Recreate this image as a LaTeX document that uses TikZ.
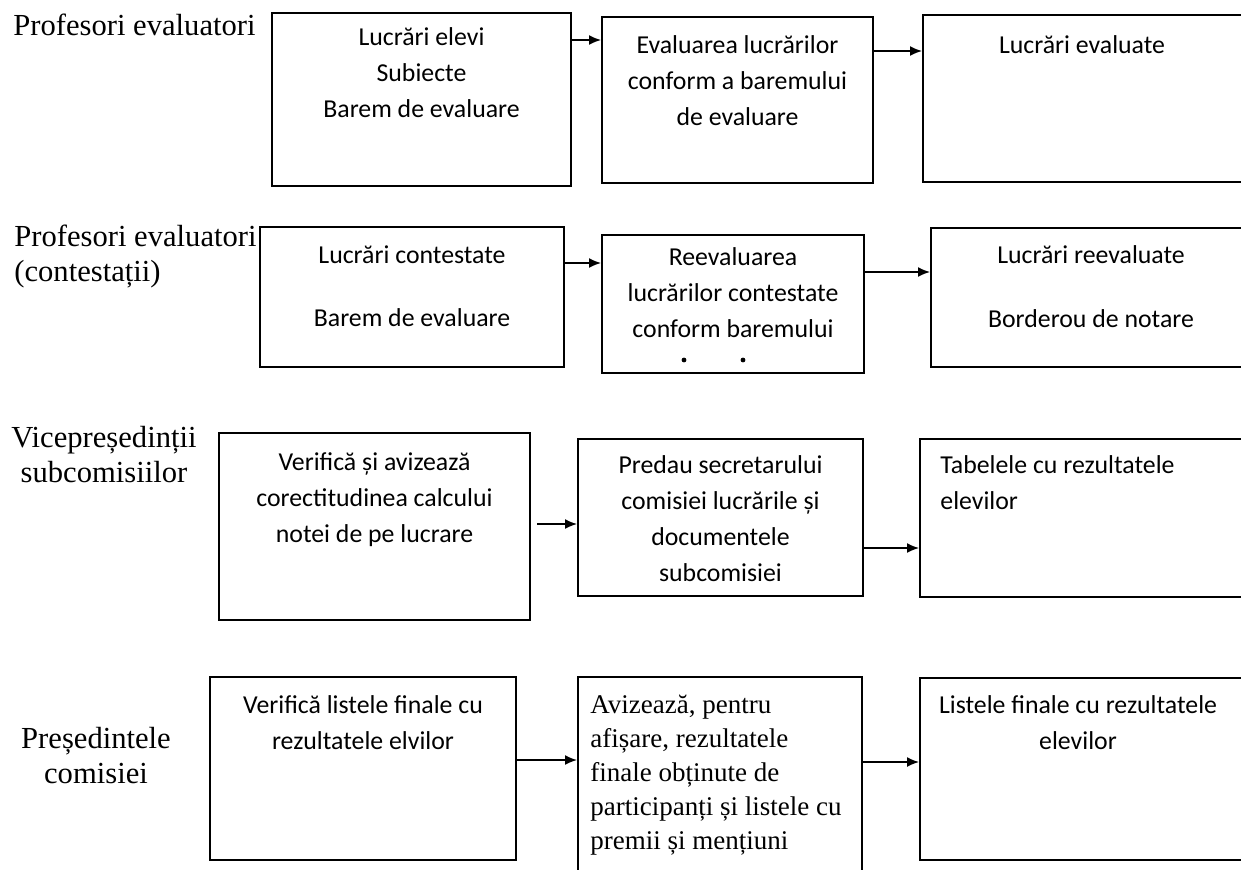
\documentclass[tikz,border=0pt]{standalone}
\usepackage{fontspec}
\setmainfont{Liberation Serif}
\newfontfamily\calib{Carlito}
\usetikzlibrary{arrows.meta,fit}
\newcommand\mystrut{\rule{0pt}{10pt}}
\newcommand\lstrut{\rule{0pt}{12pt}}
\begin{document}
\begin{tikzpicture}[x=0.5pt,y=-0.5pt,
  box/.style={draw,line width=1pt,inner sep=0pt},
  btxt/.style={inner sep=0pt,anchor=north,align=center,font={\calib\fontsize{12.9}{18}\selectfont}},
  btxtl/.style={inner sep=0pt,anchor=north west,align=left,font={\calib\fontsize{12.9}{18}\selectfont}},
  ttxt/.style={inner sep=0pt,anchor=north west,align=left,font={\fontsize{13.5}{17}\selectfont}},
  lbl/.style={inner sep=0pt,font={\fontsize{15.3}{17.5}\selectfont}},
  arr/.style={line width=0.8pt,-{Latex[length=6pt,width=5pt]}}]
\clip (0,0) rectangle (1241,869);
\fill[white] (0,0) rectangle (1241,869);
% row labels
\node[lbl,anchor=north west,align=left] (l1) at (13,11) {\lstrut Profesori evaluatori};
\node[lbl,anchor=north west,align=left] (l2) at (14,222) {\lstrut Profesori evaluatori\\(contestații)};
\node[lbl,anchor=north,align=center] (l3) at (104,423) {\lstrut Vicepreședinții\\subcomisiilor};
\node[lbl,anchor=north,align=center] (l4) at (96,724) {\lstrut Președintele\\comisiei};
% row 1
\node[box,fit={(272,13) (571,186)}] (a1) {};
\node[box,fit={(602,17) (873,183)}] (b1) {};
\node[box,fit={(923,15) (1260,182)}] (c1) {};
\node[btxt] (ta1) at (a1.north |- 0,25) {\mystrut Lucrări elevi\\Subiecte\\Barem de evaluare};
\node[btxt] (tb1) at (b1.north |- 0,33) {\mystrut Evaluarea lucrărilor\\conform a baremului\\de evaluare};
\node[btxt] (tc1) at (1082,33) {\mystrut Lucrări evaluate};
\coordinate (y1a) at (0,40);
\coordinate (y1b) at (0,51);
\draw[arr] (a1.east |- y1a) -- (b1.west |- y1a);
\draw[arr] (b1.east |- y1b) -- (c1.west |- y1b);
% row 2
\node[box,fit={(260,227) (564,367)}] (a2) {};
\node[box,fit={(602,235) (864,373)}] (b2) {};
\node[box,fit={(931,228) (1260,367)}] (c2) {};
\node[btxt] (ta2) at (a2.north |- 0,243) {\mystrut Lucrări contestate\\[13.5pt]Barem de evaluare};
\node[btxt] (tb2) at (b2.north |- 0,245) {\mystrut Reevaluarea\\lucrărilor contestate\\conform baremului};
\fill (684,360) circle (1.2pt) (743,360) circle (1.2pt);
\node[btxt] (tc2) at (1091,243) {\mystrut Lucrări reevaluate\\[14pt]Borderou de notare};
\coordinate (y2a) at (0,263);
\coordinate (y2b) at (0,272);
\draw[arr] (a2.east |- y2a) -- (b2.west |- y2a);
\draw[arr] (b2.east |- y2b) -- (c2.west |- y2b);
% row 3
\node[box,fit={(219,433) (530,620)}] (a3) {};
\node[box,fit={(578,439) (863,596)}] (b3) {};
\node[box,fit={(920,439) (1260,597)}] (c3) {};
\node[btxt] (ta3) at (a3.north |- 0,450) {\mystrut Verifică și avizează\\corectitudinea calcului\\notei de pe lucrare};
\node[btxt] (tb3) at (b3.north |- 0,453) {\mystrut Predau secretarului\\comisiei lucrările și\\documentele\\subcomisiei};
\node[btxtl] (tc3) at (940,453) {\mystrut Tabelele cu rezultatele\\elevilor};
\coordinate (s3) at (537,524);
\coordinate (y3b) at (0,548);
\draw[arr] (s3) -- (b3.west |- s3);
\draw[arr] (b3.east |- y3b) -- (c3.west |- y3b);
% row 4
\node[box,fit={(210,677) (516,860)}] (a4) {};
\node[box,fit={(578,677) (862,900)}] (b4) {};
\node[box,fit={(920,678) (1260,860)}] (c4) {};
\node[btxt] (ta4) at (a4.north |- 0,693) {\mystrut Verifică listele finale cu\\rezultatele elvilor};
\node[ttxt] (tb4) at (590,693) {\mystrut Avizează, pentru\\afișare, rezultatele\\finale obținute de\\participanți și listele cu\\premii și mențiuni};
\node[btxt] (tc4) at (1078,693) {\mystrut Listele finale cu rezultatele\\elevilor};
\coordinate (y4a) at (0,760);
\coordinate (y4b) at (0,762);
\draw[arr] (a4.east |- y4a) -- (b4.west |- y4a);
\draw[arr] (b4.east |- y4b) -- (c4.west |- y4b);
\end{tikzpicture}
\end{document}
